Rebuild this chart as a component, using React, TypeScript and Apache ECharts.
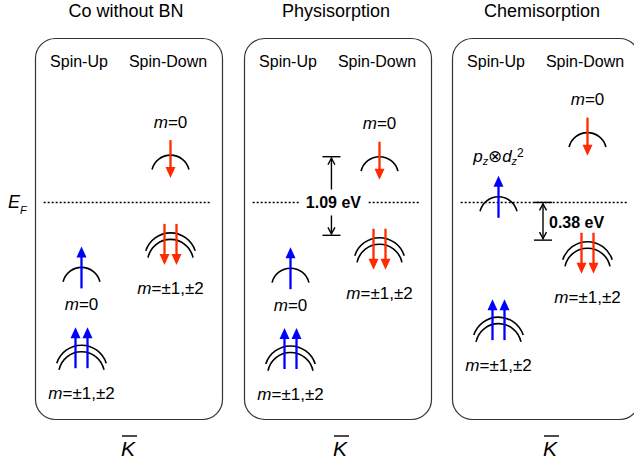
import React, { useEffect, useRef } from 'react';
import * as echarts from 'echarts';

// ---------- data ----------
const panelTitles = ['Co without BN', 'Physisorption', 'Chemisorption'];
const spinLabels = ['Spin-Up', 'Spin-Down'];
const fermiSymbol = 'E';
const fermiSub = 'F';
const momentumSymbol = 'K';

// bands: panel index, spin channel, schematic energy relative to E_F, orbital label, degeneracy (number of drawn sub-bands)
const bandPanel = [0, 0, 0, 0, 1, 1, 1, 1, 2, 2, 2, 2];
const bandSpin = ['up', 'up', 'down', 'down', 'up', 'up', 'down', 'down', 'up', 'up', 'down', 'down'];
const bandEnergy = [-0.81, -1.78, 0.59, -0.38, -0.82, -1.79, 0.57, -0.44, 0.07, -1.43, 0.87, -0.49];
const bandOrbital = ['m=0', 'm=±1,±2', 'm=0', 'm=±1,±2', 'm=0', 'm=±1,±2', 'm=0', 'm=±1,±2', 'p_z⊗d_z^2', 'm=±1,±2', 'm=0', 'm=±1,±2'];
const bandDegeneracy = [1, 2, 1, 2, 1, 2, 1, 2, 1, 2, 1, 2];

// Fermi level (E = 0) drawn across each panel in k-units
const fermiEnergy = 0;
const fermiK = [0.075, 1.955];

// energy gap annotations
const gapPanel = [1, 2];
const gapK = [0.96, 1.0];
const gapTop = [0.57, 0];
const gapBottom = [-0.41, -0.47];
const gapLabel = ['1.09 eV', '0.38 eV'];

// ---------- layout / style ----------
const FONT = '"Liberation Sans", Arial, Helvetica, sans-serif';
const BLUE = '#0000ff';
const RED = '#ff2a00';
const boxLeft = [35, 244, 452];
const boxTop = 38;
const boxW = 187;
const boxH = 381;
const titleX = [126, 336, 542];
const kBarX = [128, 340, 550];

function orbitalRich(s: string) {
  if (s.startsWith('m=')) return '{i|m}' + s.slice(1);
  return s.replace(/([a-z])_([a-z])/g, '{i|$1}{sub|$2}').replace(/\^(\d)/g, '{sup|$1}');
}

const richStyles = {
  i: { fontStyle: 'italic', fontSize: 17, fontFamily: FONT, fill: '#000', color: '#000', lineHeight: 20 },
  sub: { fontStyle: 'italic', fontSize: 11, fontFamily: FONT, fill: '#000', color: '#000', verticalAlign: 'bottom' },
  sup: { fontSize: 12, fontFamily: FONT, fill: '#000', color: '#000', verticalAlign: 'top' },
};

function arcEl(cx: number, cy: number, r: number, halfDeg: number) {
  const a = (halfDeg * Math.PI) / 180;
  return {
    type: 'arc',
    shape: { cx, cy, r, startAngle: -Math.PI / 2 - a, endAngle: -Math.PI / 2 + a, clockwise: true },
    style: { stroke: '#000', lineWidth: 1.6, fill: 'none' },
  };
}

function arrowEls(x: number, yStart: number, yTip: number, color: string) {
  const dir = yTip > yStart ? 1 : -1;
  const headLen = 11;
  const headHalf = 5;
  const baseY = yTip - dir * headLen;
  return [
    { type: 'line', shape: { x1: x, y1: yStart, x2: x, y2: baseY + dir }, style: { stroke: color, lineWidth: 2.3 } },
    { type: 'polygon', shape: { points: [[x - headHalf, baseY], [x + headHalf, baseY], [x, yTip]] }, style: { fill: color } },
  ];
}

function renderBand(params: any, api: any) {
  const k = api.value(0);
  const E = api.value(1);
  const idx = api.value(2);
  const p = api.coord([k, E]);
  const cx = p[0];
  const ay = p[1];
  const up = bandSpin[idx] === 'up';
  const n = bandDegeneracy[idx];
  const color = up ? BLUE : RED;
  const children: any[] = [];
  if (n === 1) {
    children.push(arcEl(cx, ay + 19, 19, 76));
  } else {
    children.push(arcEl(cx, ay + 26, 26, 72));
    children.push(arcEl(cx, ay + 6.5 + 23, 23, 78));
  }
  let s0: number, s1: number;
  if (up) {
    if (n === 1) { s0 = 21; s1 = -21; } else { s0 = 23; s1 = -18; }
  } else {
    if (n === 1) { s0 = -15; s1 = 23; } else { s0 = -9; s1 = 32; }
  }
  const xs = n === 1 ? [cx] : [cx - 6, cx + 6];
  xs.forEach((x) => children.push(...arrowEls(x, ay + s0, ay + s1, color)));
  const labelAbove = n === 1 && E > -0.2;
  let ly: number;
  if (labelAbove) ly = ay + (up ? -40 : -33);
  else ly = ay + (n === 1 ? 37 : up ? 48 : 56);
  children.push({
    type: 'text',
    x: cx,
    y: ly,
    style: {
      text: orbitalRich(bandOrbital[idx]),
      rich: richStyles,
      fontSize: 17,
      fontFamily: FONT,
      fill: '#000',
      align: 'center',
      verticalAlign: 'middle',
      textAlign: 'center',
      textVerticalAlign: 'middle',
    },
  });
  return { type: 'group', children };
}

function renderFermi(params: any, api: any) {
  const a = api.coord([api.value(0), api.value(1)]);
  const b = api.coord([api.value(2), api.value(1)]);
  return {
    type: 'line',
    shape: { x1: a[0], y1: a[1], x2: b[0], y2: b[1] },
    style: { stroke: '#000', lineWidth: 1.6, lineDash: [2, 2] },
  };
}

function renderGap(params: any, api: any) {
  const k = api.value(0);
  const eTop = api.value(1);
  const eBot = api.value(2);
  const idx = api.value(3);
  const t = api.coord([k, eTop]);
  const b = api.coord([k, eBot]);
  const x = t[0];
  const y1 = t[1];
  const y2 = b[1];
  const half = 9;
  const st = { stroke: '#000', lineWidth: 1.4, fill: 'none' };
  const children: any[] = [
    { type: 'line', shape: { x1: x - half, y1, x2: x + half, y2: y1 }, style: st },
    { type: 'line', shape: { x1: x - half, y1: y2, x2: x + half, y2: y2 }, style: st },
    { type: 'line', shape: { x1: x, y1: y1 + 1, x2: x, y2: y2 - 1 }, style: st },
    { type: 'polyline', shape: { points: [[x - 3.5, y1 + 8], [x, y1 + 1.5], [x + 3.5, y1 + 8]] }, style: st },
    { type: 'polyline', shape: { points: [[x - 3.5, y2 - 8], [x, y2 - 1.5], [x + 3.5, y2 - 8]] }, style: st },
  ];
  const labelStyle: any = {
    text: gapLabel[idx],
    fontSize: 16,
    fontWeight: 'bold',
    fontFamily: FONT,
    fill: '#000',
  };
  if (eTop === fermiEnergy) {
    children.push({
      type: 'text',
      x: x + 6,
      y: (y1 + y2) / 2 + 1,
      style: { ...labelStyle, align: 'left', verticalAlign: 'middle', textAlign: 'left', textVerticalAlign: 'middle' },
    });
  } else {
    const f = api.coord([k, fermiEnergy]);
    children.push({
      type: 'text',
      x: f[0] + 2,
      y: f[1],
      style: {
        ...labelStyle,
        align: 'center',
        verticalAlign: 'middle',
        textAlign: 'center',
        textVerticalAlign: 'middle',
        backgroundColor: '#fff',
        padding: [5, 7],
      },
    });
  }
  return { type: 'group', children };
}

function buildOption() {
  const grid: any[] = [];
  const xAxis: any[] = [];
  const yAxis: any[] = [];
  const series: any[] = [];
  for (let i = 0; i < 3; i++) {
    grid.push({ left: boxLeft[i] + 2, top: boxTop, width: 178, height: boxH, containLabel: false, outerBoundsMode: 'none' });
    yAxis.push({ type: 'value', gridIndex: i, min: -2.7, max: 2.05, show: false });
  }
  for (let i = 0; i < 3; i++) {
    xAxis.push({ type: 'value', gridIndex: i, min: 0, max: 2, show: false });
  }
  for (let i = 0; i < 3; i++) {
    xAxis.push({
      type: 'category',
      gridIndex: i,
      position: 'top',
      data: spinLabels,
      axisLine: { show: false },
      axisTick: { show: false },
      splitLine: { show: false },
      axisLabel: { inside: true, margin: 15, fontSize: 16, color: '#000', fontFamily: FONT, padding: [0, 5, 0, 0], interval: 0 },
    });
  }
  for (let i = 0; i < 3; i++) {
    series.push({
      type: 'custom',
      xAxisIndex: i,
      yAxisIndex: i,
      z: 1,
      renderItem: renderFermi,
      encode: { x: 0, y: 1 },
      data: [[fermiK[0], fermiEnergy, fermiK[1]]],
      silent: true,
    });
    const bd: number[][] = [];
    bandPanel.forEach((p, idx) => {
      if (p === i) bd.push([bandSpin[idx] === 'up' ? 0.5 : 1.5, bandEnergy[idx], idx]);
    });
    series.push({
      type: 'custom',
      xAxisIndex: i,
      yAxisIndex: i,
      z: 3,
      renderItem: renderBand,
      encode: { x: 0, y: 1 },
      data: bd,
      silent: true,
    });
    const gd: number[][] = [];
    gapPanel.forEach((p, idx) => {
      if (p === i) gd.push([gapK[idx], gapTop[idx], gapBottom[idx], idx]);
    });
    if (gd.length) {
      series.push({
        type: 'custom',
        xAxisIndex: i,
        yAxisIndex: i,
        z: 5,
        renderItem: renderGap,
        encode: { x: 0, y: [1, 2] },
        data: gd,
        silent: true,
      });
    }
  }

  const graphic: any[] = [];
  boxLeft.forEach((x) => {
    graphic.push({
      type: 'rect',
      silent: true,
      z: 0,
      shape: { x: x + 0.5, y: boxTop + 0.5, width: boxW, height: boxH, r: 20 },
      style: { fill: 'none', stroke: '#333', lineWidth: 1.2 },
    });
  });
  panelTitles.forEach((t, i) => {
    graphic.push({
      type: 'text',
      x: titleX[i],
      y: 11,
      style: { text: t, fontSize: 18, fontFamily: FONT, fill: '#000', textAlign: 'center', textVerticalAlign: 'middle', align: 'center', verticalAlign: 'middle' },
    });
  });
  graphic.push({
    type: 'text',
    x: 8,
    y: 202,
    style: { text: fermiSymbol, fontSize: 18, fontStyle: 'italic', fontFamily: FONT, fill: '#000', textAlign: 'left', textVerticalAlign: 'middle', align: 'left', verticalAlign: 'middle' },
  });
  graphic.push({
    type: 'text',
    x: 20,
    y: 210,
    style: { text: fermiSub, fontSize: 11, fontStyle: 'italic', fontFamily: FONT, fill: '#000', textAlign: 'left', textVerticalAlign: 'middle', align: 'left', verticalAlign: 'middle' },
  });
  kBarX.forEach((x) => {
    graphic.push({
      type: 'text',
      x,
      y: 448,
      style: { text: momentumSymbol, fontSize: 21, fontStyle: 'italic', fontFamily: FONT, fill: '#000', textAlign: 'center', textVerticalAlign: 'middle', align: 'center', verticalAlign: 'middle' },
    });
    graphic.push({
      type: 'line',
      shape: { x1: x - 6, y1: 436, x2: x + 9, y2: 436 },
      style: { stroke: '#000', lineWidth: 1.4 },
    });
  });

  return {
    animation: false,
    backgroundColor: '#fff',
    grid,
    xAxis,
    yAxis,
    series,
    graphic,
  };
}

export default function App() {
  const ref = useRef<HTMLDivElement>(null);
  useEffect(() => {
    const chart = echarts.init(ref.current!, null, { renderer: 'svg' });
    chart.setOption(buildOption() as any);
    return () => chart.dispose();
  }, []);
  return <div ref={ref} style={{ position: 'fixed', left: 0, top: 0, width: 634, height: 466 }} />;
}
